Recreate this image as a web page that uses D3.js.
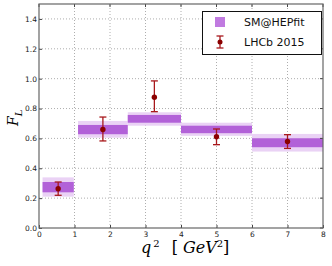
<!DOCTYPE html>
<html><head><meta charset="utf-8">
<script src="https://cdn.jsdelivr.net/npm/d3@7"></script>
<style>body{margin:0;background:#fff}svg{display:block}</style>
</head><body>
<script>
// Data
const binLo = [0.1, 1.1, 2.5, 4.0, 6.0];
const binHi = [0.98, 2.5, 4.0, 6.0, 8.0];
const smOuterLo = [0.21, 0.605, 0.685, 0.617, 0.512];
const smOuterHi = [0.339, 0.717, 0.775, 0.705, 0.630];
const smInnerLo = [0.239, 0.628, 0.705, 0.635, 0.541];
const smInnerHi = [0.308, 0.690, 0.757, 0.685, 0.601];
const lhcbX = [0.54, 1.8, 3.25, 5.0, 7.0];
const lhcbY = [0.263, 0.660, 0.876, 0.611, 0.579];
const lhcbErrUp = [0.045, 0.083, 0.109, 0.052, 0.046];
const lhcbErrDn = [0.044, 0.077, 0.097, 0.053, 0.046];
const xTicks = [0,1,2,3,4,5,6,7,8];
const yTicks = [0.0,0.2,0.4,0.6,0.8,1.0,1.2,1.4];
const legendLabels = ["SM@HEPfit", "LHCb 2015"];

const W = 332, H = 266;
const m = {l:39, r:9, t:4, b:38};
const svg = d3.select("body").append("svg").attr("width", W).attr("height", H);
const x = d3.scaleLinear().domain([0,8]).range([m.l, W-m.r]);
const y = d3.scaleLinear().domain([0,1.5]).range([H-m.b, m.t]);

// grid
const g = svg.append("g");
g.selectAll(".gx").data(xTicks.slice(1,-1)).join("line")
  .attr("x1", d=>x(d)).attr("x2", d=>x(d)).attr("y1", y(0)).attr("y2", y(1.5))
  .attr("stroke", "#999").attr("stroke-width", 0.8).attr("stroke-dasharray", "1,2");
g.selectAll(".gy").data(yTicks.slice(1)).join("line")
  .attr("x1", x(0)).attr("x2", x(8)).attr("y1", d=>y(d)).attr("y2", d=>y(d))
  .attr("stroke", "#999").attr("stroke-width", 0.8).attr("stroke-dasharray", "1,2");

// bands
const idx = d3.range(binLo.length);
svg.selectAll(".outer").data(idx).join("rect")
  .attr("x", i=>x(binLo[i])).attr("width", i=>x(binHi[i])-x(binLo[i]))
  .attr("y", i=>y(smOuterHi[i])).attr("height", i=>y(smOuterLo[i])-y(smOuterHi[i]))
  .attr("fill", "#ead2f5");
svg.selectAll(".inner").data(idx).join("rect")
  .attr("x", i=>x(binLo[i])).attr("width", i=>x(binHi[i])-x(binLo[i]))
  .attr("y", i=>y(smInnerHi[i])).attr("height", i=>y(smInnerLo[i])-y(smInnerHi[i]))
  .attr("fill", "#b261d8");

// error bars
const red = "#a8181c";
const eb = svg.selectAll(".eb").data(idx).join("g");
eb.append("line").attr("x1", i=>x(lhcbX[i])).attr("x2", i=>x(lhcbX[i]))
  .attr("y1", i=>y(lhcbY[i]+lhcbErrUp[i])).attr("y2", i=>y(lhcbY[i]-lhcbErrDn[i]))
  .attr("stroke", red).attr("stroke-width", 1.3);
eb.append("line").attr("x1", i=>x(lhcbX[i])-3.5).attr("x2", i=>x(lhcbX[i])+3.5)
  .attr("y1", i=>y(lhcbY[i]+lhcbErrUp[i])).attr("y2", i=>y(lhcbY[i]+lhcbErrUp[i]))
  .attr("stroke", red).attr("stroke-width", 1.3);
eb.append("line").attr("x1", i=>x(lhcbX[i])-3.5).attr("x2", i=>x(lhcbX[i])+3.5)
  .attr("y1", i=>y(lhcbY[i]-lhcbErrDn[i])).attr("y2", i=>y(lhcbY[i]-lhcbErrDn[i]))
  .attr("stroke", red).attr("stroke-width", 1.3);
eb.append("circle").attr("cx", i=>x(lhcbX[i])).attr("cy", i=>y(lhcbY[i])).attr("r", 2.7)
  .attr("fill", "#8b0000");

// axes
const ax = svg.append("g").attr("transform", `translate(0,${y(0)})`)
  .call(d3.axisBottom(x).tickValues(xTicks).tickFormat(d3.format("d")).tickSizeInner(-3).tickSizeOuter(0).tickPadding(4));
const ay = svg.append("g").attr("transform", `translate(${x(0)},0)`)
  .call(d3.axisLeft(y).tickValues(yTicks).tickFormat(d3.format(".1f")).tickSizeInner(-3).tickSizeOuter(0).tickPadding(2));
[ax, ay].forEach(a => {
  a.select(".domain").remove();
  a.selectAll("text").attr("font-family", "DejaVu Sans").attr("font-size", 7.5).attr("fill", "#222");
  a.selectAll("line").attr("stroke", "#444");
});
// top/right ticks
svg.selectAll(".tt").data(xTicks).join("line").attr("x1", d=>x(d)).attr("x2", d=>x(d))
  .attr("y1", y(1.5)).attr("y2", y(1.5)+3).attr("stroke", "#444");
svg.selectAll(".rt").data(yTicks).join("line").attr("x1", x(8)).attr("x2", x(8)-3)
  .attr("y1", d=>y(d)).attr("y2", d=>y(d)).attr("stroke", "#444");

// frame
svg.append("rect").attr("x", x(0)).attr("y", y(1.5)).attr("width", x(8)-x(0)).attr("height", y(0)-y(1.5))
  .attr("fill", "none").attr("stroke", "#666").attr("stroke-width", 1.2);

// labels
svg.append("text").attr("x", 141).attr("y", 253)
  .attr("font-family", "DejaVu Serif").attr("font-style", "italic").attr("font-size", 16)
  .html('q<tspan dy="-6" dx="2" font-size="10" font-style="normal">2</tspan><tspan dy="6" dx="12" font-style="normal">[</tspan><tspan dx="5">GeV</tspan><tspan dy="-6" font-size="10" font-style="normal">2</tspan><tspan dy="6" font-style="normal">]</tspan>');
svg.append("text").attr("transform", "translate(18,126) rotate(-90)")
  .attr("font-family", "DejaVu Serif").attr("font-style", "italic").attr("font-size", 14)
  .html('F<tspan dy="4" font-size="10">L</tspan>');

// legend
const lg = svg.append("g");
lg.append("rect").attr("x", 202.5).attr("y", 11.5).attr("width", 119).attr("height", 43)
  .attr("fill", "#fff").attr("stroke", "#111").attr("stroke-width", 1);
lg.append("rect").attr("x", 215).attr("y", 17).attr("width", 10).attr("height", 10).attr("fill", "#c07ae0");
const lx = 220;
lg.append("line").attr("x1", lx).attr("x2", lx).attr("y1", 36).attr("y2", 48).attr("stroke", red).attr("stroke-width", 1.3);
lg.append("line").attr("x1", lx-3.5).attr("x2", lx+3.5).attr("y1", 36).attr("y2", 36).attr("stroke", red).attr("stroke-width", 1.3);
lg.append("line").attr("x1", lx-3.5).attr("x2", lx+3.5).attr("y1", 48).attr("y2", 48).attr("stroke", red).attr("stroke-width", 1.3);
lg.append("circle").attr("cx", lx).attr("cy", 42).attr("r", 2.5).attr("fill", "#8b0000");
lg.selectAll(".lt").data(legendLabels).join("text")
  .attr("x", 244).attr("y", (d,i)=>26 + i*20)
  .attr("font-family", "DejaVu Sans").attr("font-size", 11).attr("fill", "#111").text(d=>d);
</script>
</body></html>
